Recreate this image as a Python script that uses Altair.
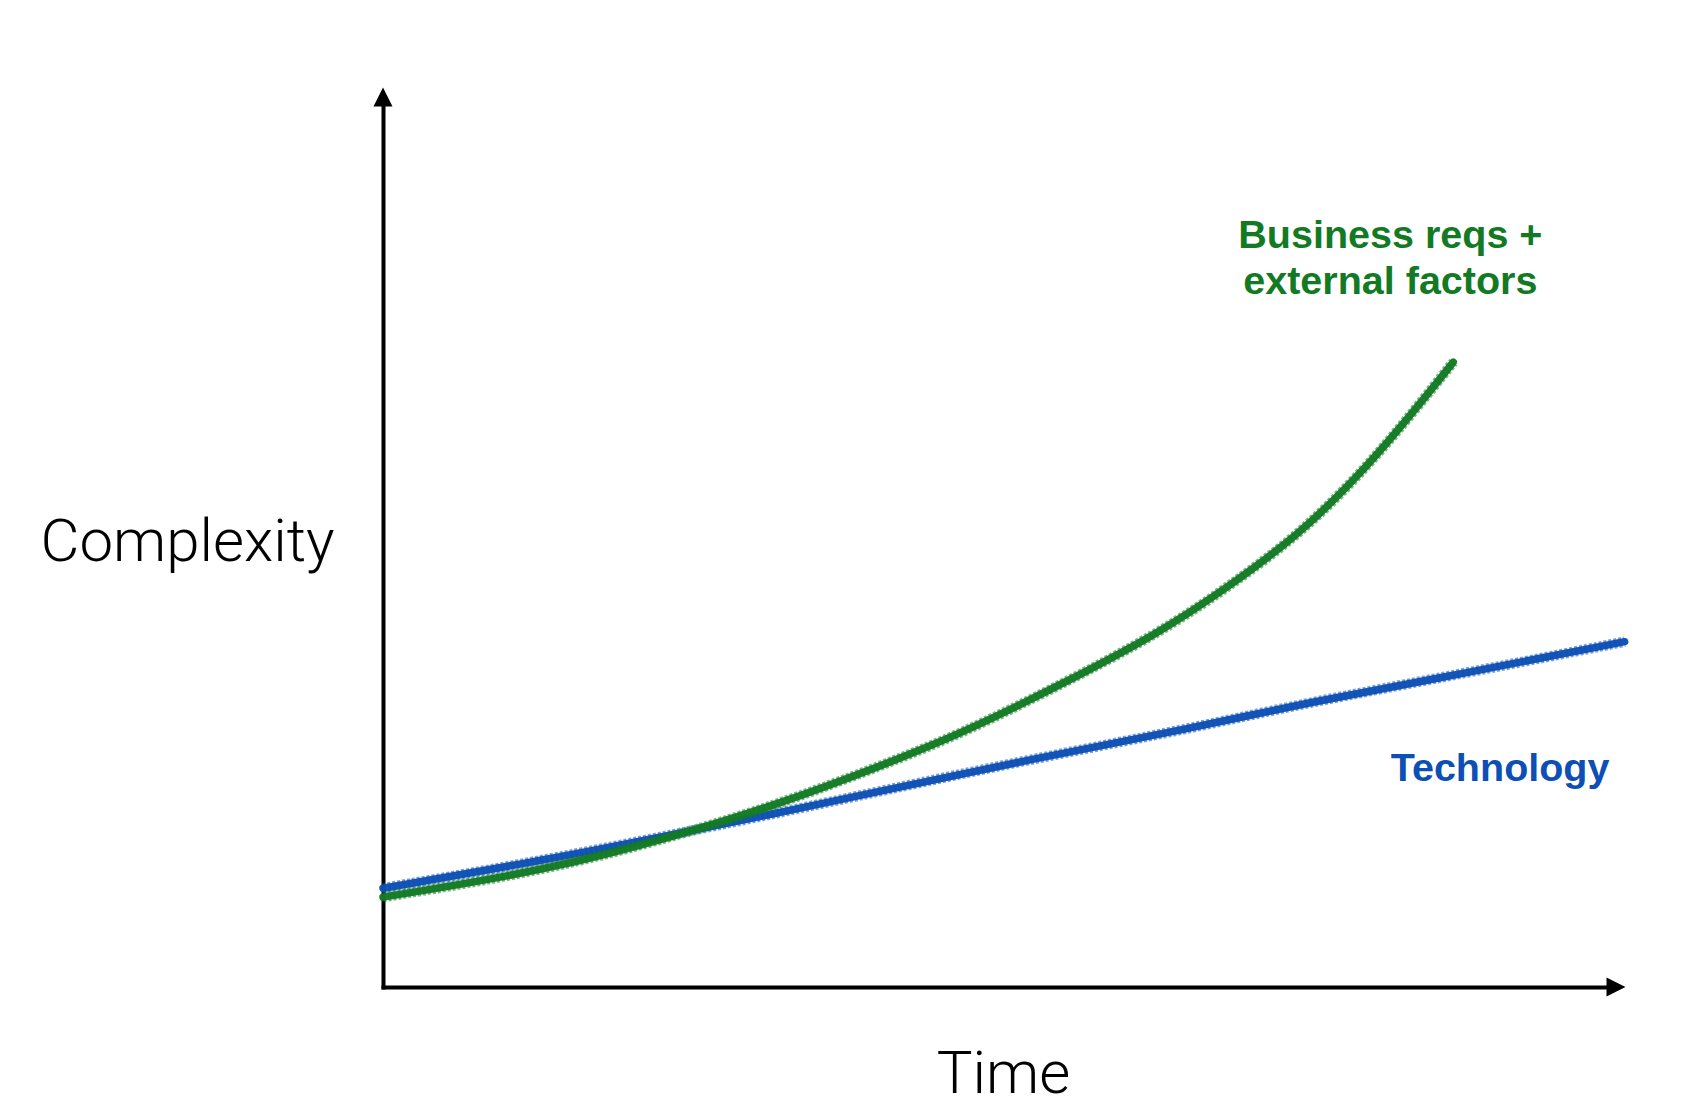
import altair as alt
import pandas as pd

# ---- data (arbitrary units: time 0-100, complexity 0-100) ----
tech_time = [0, 13.3, 24.1, 32.2, 40.3, 52.2, 65.7, 74.4, 87.9, 100.7]
tech_cplx = [11.1, 14.3, 17.3, 19.6, 22.0, 25.5, 29.1, 31.8, 35.3, 38.8]

biz_time = [0, 13.3, 24.1, 32.2, 40.3, 46.8, 54.9, 63.0, 68.5, 74.4, 79.8, 83.9, 86.8]
biz_cplx = [10.1, 13.1, 17.1, 20.6, 24.8, 28.4, 33.9, 39.8, 44.9, 50.9, 58.4, 65.2, 70.2]

label_text = ["Business reqs +", "external factors", "Technology"]
label_time = [81.7, 81.7, 90.6]
label_cplx = [83.0, 77.9, 23.1]
label_series = ["biz", "biz", "tech"]

arrow_time = [0, 100]
arrow_cplx = [100, 0]
arrow_dir = ["up", "right"]

GREEN = "#137A24"
BLUE = "#0D4FB5"

tech = pd.DataFrame({"t": tech_time, "c": tech_cplx})
biz = pd.DataFrame({"t": biz_time, "c": biz_cplx})
labels = pd.DataFrame({"t": label_time, "c": label_cplx, "text": label_text, "s": label_series})
arrows = pd.DataFrame({"t": arrow_time, "c": arrow_cplx, "d": arrow_dir})

xscale = alt.Scale(domain=[0, 100], nice=False, zero=False)
yscale = alt.Scale(domain=[0, 100], nice=False, zero=False)

xaxis = alt.Axis(
    domain=True, domainWidth=4, domainColor="black", domainCap="square",
    ticks=False, labels=False, grid=False,
    title="Time", titleFont="Roboto", titleFontWeight=300, titleFontSize=60,
    titleColor="black", titleX=620, titleY=105, titleAlign="center",
    titleBaseline="alphabetic", titleAngle=0,
)
yaxis = alt.Axis(
    domain=True, domainWidth=4, domainColor="black", domainCap="square",
    ticks=False, labels=False, grid=False,
    title="Complexity", titleFont="Roboto", titleFontWeight=300, titleFontSize=60,
    titleColor="black", titleX=-196, titleY=463, titleAlign="center",
    titleBaseline="alphabetic", titleAngle=0,
)

base_x = alt.X("t:Q", scale=xscale, axis=xaxis)
base_y = alt.Y("c:Q", scale=yscale, axis=yaxis)


def sketch_line(df, color):
    rough = alt.Chart(df).mark_line(
        interpolate="basis", color=color, strokeWidth=10.5, opacity=0.55,
        strokeDash=[3, 2], strokeCap="butt"
    ).encode(x=base_x, y=base_y)
    core = alt.Chart(df).mark_line(
        interpolate="basis", color=color, strokeWidth=7.5, opacity=0.97, strokeCap="round"
    ).encode(x=base_x, y=base_y)
    return rough + core


tech_line = sketch_line(tech, BLUE)
biz_line = sketch_line(biz, GREEN)

text_layer = alt.Chart(labels).mark_text(
    font="Liberation Sans", fontWeight="bold", fontSize=39.5,
    align="center", baseline="alphabetic",
).encode(
    x=base_x, y=base_y, text="text:N",
    color=alt.Color("s:N", scale=alt.Scale(domain=["biz", "tech"], range=[GREEN, BLUE]), legend=None),
)

arrow_up = alt.Chart(arrows).transform_filter(alt.datum.d == "up").mark_point(
    shape="M0,-1L1,1L-1,1Z", size=361, filled=True, color="black", opacity=1, strokeWidth=0
).encode(x=base_x, y=base_y)
arrow_right = alt.Chart(arrows).transform_filter(alt.datum.d == "right").mark_point(
    shape="M1,0L-1,-1L-1,1Z", size=361, filled=True, color="black", opacity=1, strokeWidth=0
).encode(x=base_x, y=base_y)

chart = alt.layer(
    tech_line, biz_line, text_layer, arrow_up, arrow_right
).properties(
    width=1233, height=890,
    autosize=alt.AutoSizeParams(type="none"),
    padding={"left": 375, "top": 89, "right": 40, "bottom": 108},
).configure(
    background="white",
    view=alt.ViewConfig(stroke=None, strokeWidth=0),
)

chart.save("out.html", embed_options={"renderer": "svg", "actions": False})
